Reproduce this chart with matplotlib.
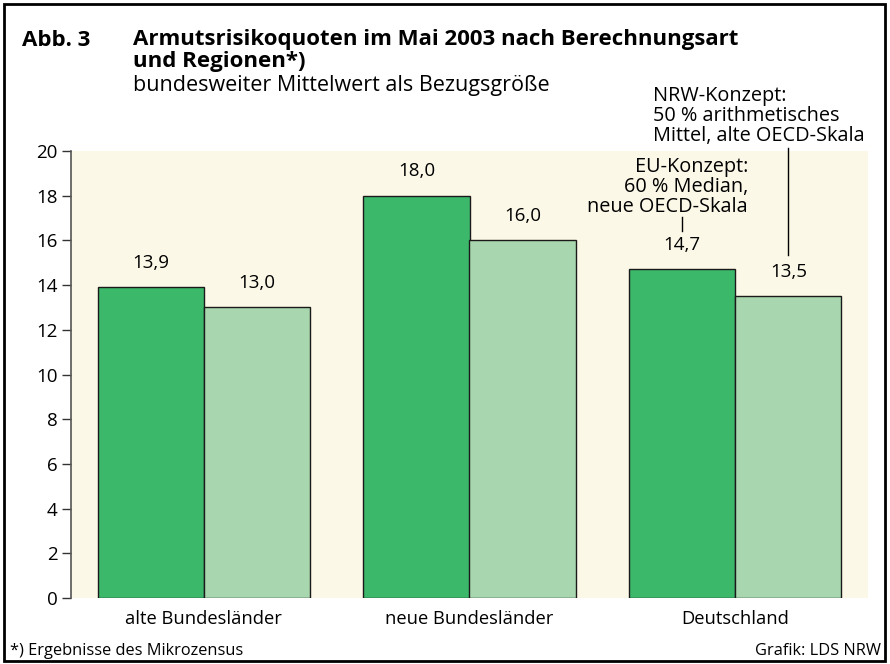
import matplotlib.pyplot as plt
import matplotlib.patches as mpatches
import numpy as np

plt.rcParams["font.family"] = ["Open Sans", "DejaVu Sans"]

categories = ["alte Bundesländer", "neue Bundesländer", "Deutschland"]
eu_values = [13.9, 18.0, 14.7]
nrw_values = [13.0, 16.0, 13.5]
y_ticks = [0, 2, 4, 6, 8, 10, 12, 14, 16, 18, 20]

DARK = "#3cb86b"
LIGHT = "#a7d6af"
CREAM = "#fcf8e7"

W, H = 890, 664


def fy(px):
    return 1 - px / H


def fx(px):
    return px / W


fig = plt.figure(figsize=(W / 100, H / 100), dpi=100)
ax = fig.add_axes([fx(71), fy(598), fx(868) - fx(71), fy(151) - fy(598)])
ax.set_facecolor(CREAM)

x = np.arange(len(categories))
bw = 0.40
ax.bar(x - bw / 2, eu_values, width=bw, color=DARK, edgecolor="#1a1a1a", linewidth=1.0, zorder=2)
ax.bar(x + bw / 2, nrw_values, width=bw, color=LIGHT, edgecolor="#1a1a1a", linewidth=1.0, zorder=2)

for xi, v in zip(x, eu_values):
    ax.text(xi - bw / 2, v + 1.1, f"{v:.1f}".replace(".", ","), ha="center", va="center", fontsize=13.5)
for xi, v in zip(x, nrw_values):
    ax.text(xi + bw / 2, v + 1.1, f"{v:.1f}".replace(".", ","), ha="center", va="center", fontsize=13.5)

ax.set_xlim(-0.5, 2.5)
ax.set_ylim(0, 20)
ax.set_yticks(y_ticks)
ax.set_yticklabels([str(t) for t in y_ticks], fontsize=13.5)
ax.set_xticks(x)
ax.set_xticklabels(categories, fontsize=13.2)
ax.tick_params(axis="x", length=0, pad=9)
ax.tick_params(axis="y", length=6.5, width=1, color="#333333", pad=3)
for side in ["top", "right", "bottom"]:
    ax.spines[side].set_visible(False)
ax.spines["left"].set_color("#555555")
ax.spines["left"].set_linewidth(1.2)

# leader lines for the two concepts (Deutschland group)
ax.plot([x[2] - bw / 2] * 2, [16.42, 17.05], color="black", lw=1, clip_on=False)
ax.plot([x[2] + bw / 2] * 2, [15.35, 20.13], color="black", lw=1, clip_on=False)

fig.text(fx(748), fy(187), "EU-Konzept:\n60 % Median,\nneue OECD-Skala",
         ha="right", va="center", fontsize=14.3, linespacing=0.98)
fig.text(fx(653), fy(116), "NRW-Konzept:\n50 % arithmetisches\nMittel, alte OECD-Skala",
         ha="left", va="center", fontsize=14.3, linespacing=0.98)

# title block
fig.text(fx(22), fy(40), "Abb. 3", fontsize=16, fontweight="bold", va="center")
fig.text(fx(133), fy(40), "Armutsrisikoquoten im Mai 2003 nach Berechnungsart",
         fontsize=16, fontweight="bold", va="center")
fig.text(fx(133), fy(62), "und Regionen*)", fontsize=16, fontweight="bold", va="center")
fig.text(fx(133), fy(86), "bundesweiter Mittelwert als Bezugsgröße", fontsize=15.5, va="center")

# footer
fig.text(fx(10), fy(651), "*) Ergebnisse des Mikrozensus", fontsize=11.8, va="center")
fig.text(fx(881), fy(651), "Grafik: LDS NRW", fontsize=11.8, va="center", ha="right")

# outer frame
fig.add_artist(mpatches.Rectangle((fx(4), fy(661)), fx(885) - fx(4), fy(4) - fy(661),
                                  transform=fig.transFigure, fill=False, edgecolor="black", lw=2))

fig.savefig("out.png", dpi=100)
